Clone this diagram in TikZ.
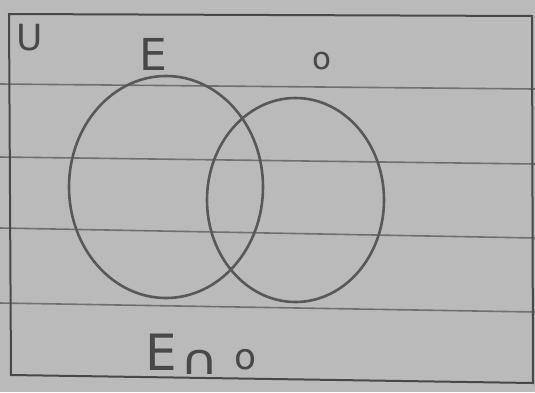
\documentclass[tikz,border=0pt]{standalone}
\usepackage{fontspec}
\setmainfont{DejaVu Sans}
\definecolor{paper}{RGB}{186,186,186}
\definecolor{rule}{RGB}{112,112,112}
\definecolor{ink}{RGB}{72,72,72}
\definecolor{pencil}{RGB}{88,88,88}
\begin{document}
\begin{tikzpicture}[x=1pt,y=-1pt,
  ruled/.style={draw=rule,line width=1.6pt},
  frame/.style={draw=ink,line width=2pt},
  setcircle/.style={draw=pencil,line width=2.6pt},
  handlabel/.style={text=ink,inner sep=0pt}]
\fill[paper] (0,0) rectangle (535,392);
\useasboundingbox (0,0) rectangle (535,392);
% ruled notebook lines
\draw[ruled] (0,84) -- (535,89);
\draw[ruled] (0,157) -- (535,164);
\draw[ruled] (0,228) -- (535,238);
\draw[ruled] (0,303) -- (535,312);
% universal set frame
\draw[frame] (9,14) -- (532,16) -- (533,383) -- (11,375) -- cycle;
% sets
\draw[setcircle] (166,187) ellipse [x radius=97, y radius=111];
\draw[setcircle] (295.5,200) ellipse [x radius=88.5, y radius=102];
% labels
\node[handlabel,font=\fontsize{36}{36}\selectfont] (u) at (30,38) {U};
\node[handlabel,font=\fontsize{44}{44}\selectfont] (e) at (153,54) {E};
\node[handlabel,font=\fontsize{31}{31}\selectfont] (o) at (322,61) {o};
\node[handlabel,font=\fontsize{50}{50}\selectfont] (eb) at (161,352) {E};
\node[handlabel,font=\fontsize{42}{42}\selectfont,xscale=1.25] (cap) at (200,362) {∩};
\node[handlabel,font=\fontsize{36}{36}\selectfont] (ob) at (246,360) {o};
\end{tikzpicture}
\end{document}
